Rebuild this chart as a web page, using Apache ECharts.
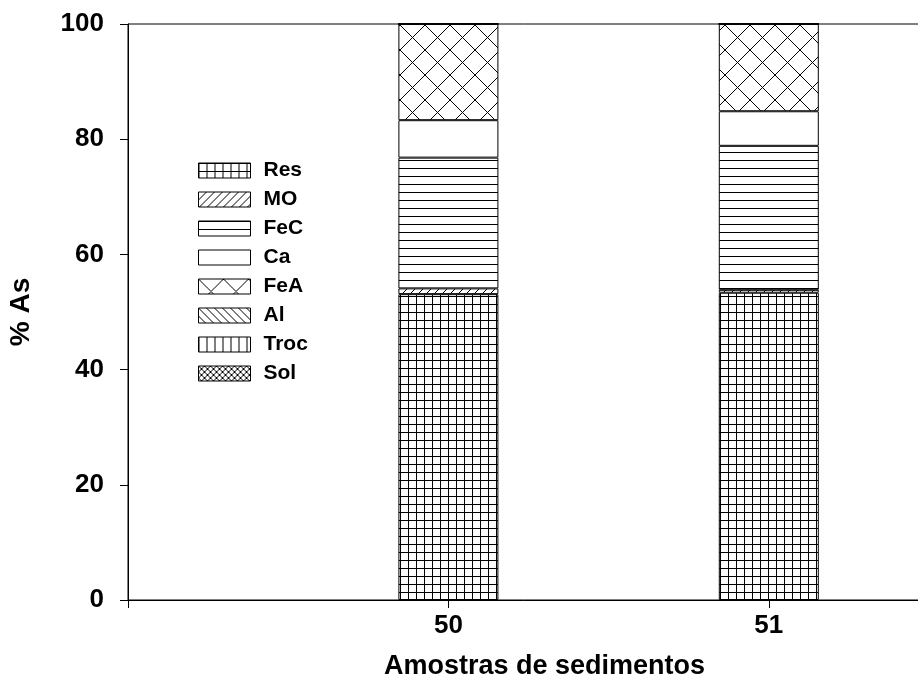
<!DOCTYPE html>
<html><head><meta charset="utf-8">
<script src="https://cdn.jsdelivr.net/npm/echarts@6/dist/echarts.min.js"></script>
<style>html,body{margin:0;padding:0;background:#fff}#c{width:918px;height:677px}</style>
</head><body><div id="c"></div>
<script>
const samples = ['50', '51'];
const axisSlots = ['49', '49.5', '50', '50.5', '51', '51.5'];
const seriesNames = ['Res', 'MO', 'FeC', 'Ca', 'FeA', 'Al', 'Troc', 'Sol'];
const resVals  = [53.1, 53.35];
const moVals   = [1.0, 0.5];
const fecVals  = [22.7, 25.0];
const caVals   = [6.5, 6.0];
const feaVals  = [16.7, 15.15];
const alVals   = [0, 0];
const trocVals = [0, 0];
const solVals  = [0, 0];
const yTicks = [0, 20, 40, 60, 80, 100];

function pat(w, h, draw) {
  const c = document.createElement('canvas');
  c.width = w; c.height = h;
  const g = c.getContext('2d');
  g.fillStyle = '#fff'; g.fillRect(0, 0, w, h);
  g.strokeStyle = '#000'; g.lineWidth = 1;
  draw(g, w, h);
  return { image: c, repeat: 'repeat' };
}
const patterns = {
  Res: pat(8, 8, (g) => { g.beginPath(); g.moveTo(0.5, 0); g.lineTo(0.5, 8); g.moveTo(0, 0.5); g.lineTo(8, 0.5); g.stroke(); }),
  MO: pat(8, 8, (g) => { g.beginPath(); g.moveTo(-1, 9); g.lineTo(9, -1); g.moveTo(-5, 5); g.lineTo(5, -5); g.moveTo(3, 13); g.lineTo(13, 3); g.stroke(); }),
  FeC: pat(8, 8, (g) => { g.beginPath(); g.moveTo(0, 0.5); g.lineTo(8, 0.5); g.stroke(); }),
  Ca: '#ffffff',
  FeA: pat(25, 25, (g) => { g.beginPath();
    for (let k = -25; k <= 25; k += 25) { g.moveTo(k - 2, -2); g.lineTo(k + 27, 27); g.moveTo(k + 27, -2); g.lineTo(k - 2, 27); }
    g.stroke(); }),
  Al: pat(8, 8, (g) => { g.beginPath(); g.moveTo(-1, -1); g.lineTo(9, 9); g.moveTo(-5, 3); g.lineTo(5, 13); g.moveTo(3, -5); g.lineTo(13, 5); g.stroke(); }),
  Troc: pat(8, 8, (g) => { g.beginPath(); g.moveTo(0.5, 0); g.lineTo(0.5, 8); g.stroke(); }),
  Sol: pat(6, 6, (g) => { g.beginPath();
    for (let k = -6; k <= 6; k += 6) { g.moveTo(k - 1, -1); g.lineTo(k + 7, 7); g.moveTo(k + 7, -1); g.lineTo(k - 1, 7); }
    g.stroke(); })
};
const valuesBy = { Res: resVals, MO: moVals, FeC: fecVals, Ca: caVals, FeA: feaVals, Al: alVals, Troc: trocVals, Sol: solVals };

const chart = echarts.init(document.getElementById('c'), null, { renderer: 'canvas' });
const FONT = 'Liberation Sans';
const tickSlots = ['49', '50', '51'];
chart.setOption({
  animation: false,
  backgroundColor: '#fff',
  grid: { left: 128, top: 24, width: 801, height: 576, outerBoundsMode: 'none', containLabel: false,
    show: true, borderColor: '#000', borderWidth: 1, backgroundColor: 'transparent' },
  legend: {
    orient: 'vertical', left: 198, top: 160, padding: 0,
    icon: 'rect', itemWidth: 52, itemHeight: 15, itemGap: 8.0,
    data: seriesNames,
    textStyle: { fontFamily: FONT, fontWeight: 'bold', fontSize: 21, color: '#000', padding: [0, 0, 0, 8] },
    itemStyle: { borderColor: '#000', borderWidth: 1 }
  },
  xAxis: {
    type: 'category', data: axisSlots, boundaryGap: false,
    name: 'Amostras de sedimentos', nameLocation: 'middle', nameGap: 53,
    nameTextStyle: { fontFamily: FONT, fontWeight: 'bold', fontSize: 27, color: '#000', padding: [0, 0, 0, 32] },
    axisLine: { show: true, lineStyle: { color: '#000', width: 1 } },
    axisTick: { show: true, length: 8, lineStyle: { color: '#000' }, interval: (i, v) => tickSlots.includes(v) },
    axisLabel: { fontFamily: FONT, fontWeight: 'bold', fontSize: 26, color: '#000', margin: 13,
      interval: (i, v) => samples.includes(v) },
    splitLine: { show: false }
  },
  yAxis: {
    type: 'value', min: yTicks[0], max: yTicks[yTicks.length - 1], interval: 20,
    name: '% As', nameLocation: 'middle', nameGap: 93,
    nameTextStyle: { fontFamily: FONT, fontWeight: 'bold', fontSize: 28, color: '#000' },
    axisLine: { show: true, lineStyle: { color: '#000', width: 1 } },
    axisTick: { show: true, length: 8, lineStyle: { color: '#000' } },
    axisLabel: { fontFamily: FONT, fontWeight: 'bold', fontSize: 26, color: '#000', margin: 24 },
    splitLine: { show: false }
  },
  series: seriesNames.map((n) => ({
    name: n, type: 'bar', stack: 'total', barWidth: 100,
    itemStyle: { color: patterns[n], borderColor: '#000', borderWidth: 1 },
    data: axisSlots.map((s) => { const i = samples.indexOf(s); return i < 0 ? '-' : valuesBy[n][i]; })
  }))
});
</script></body></html>
